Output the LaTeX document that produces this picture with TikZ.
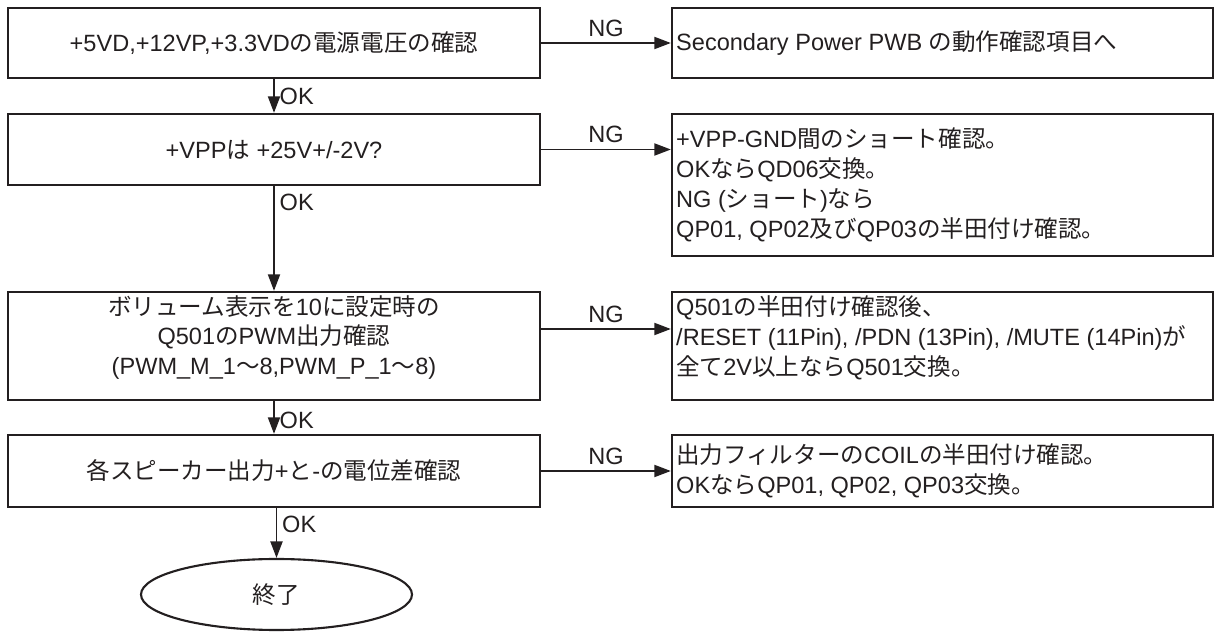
\documentclass[tikz,border=0pt]{standalone}
\usepackage{fontspec}
\setmainfont{Liberation Sans}
\newfontfamily\jpfont{Noto Sans CJK JP}
\newcommand{\jp}[1]{{\jpfont #1}}
\usetikzlibrary{arrows.meta, positioning, shapes.geometric}
\definecolor{inkblack}{HTML}{231F20}

\begin{document}
\begin{tikzpicture}[
    chkbox/.style={rectangle, draw=inkblack, line width=1.3pt, minimum width=10.64cm, align=center, inner sep=0pt},
    ngbox/.style={rectangle, draw=inkblack, line width=1.3pt, minimum width=10.82cm, inner sep=0pt},
    ngtext/.style={anchor=west, align=left, inner xsep=0.1cm, inner ysep=0pt},
    endnode/.style={ellipse, draw=inkblack, line width=1.2pt, minimum width=5.42cm, minimum height=1.42cm, inner sep=0pt},
    flow/.style={-{Triangle[length=3.3mm, width=2.4mm]}, draw=inkblack, line width=1.1pt},
    oklabel/.style={anchor=west, inner sep=1pt, xshift=0.06cm},
    nglabel/.style={above, inner sep=2pt, yshift=0.04cm},
    font=\fontsize{13.4}{17}\selectfont, text=inkblack
]
\useasboundingbox (0,0) rectangle (24.32,12.64);

% left column: checks
\node[chkbox, minimum height=1.4cm] (supply) at (5.48, 11.78) {+5VD,+12VP,+3.3VD\jp{の電源電圧の確認}};
\node[chkbox, minimum height=1.42cm] (vpp) at (5.48, 9.65) {+VPP\jp{は} +25V+/-2V?};
\node[chkbox, minimum height=2.16cm] (pwm) at (5.48, 5.72) {};
\node[align=center, inner sep=0pt] (pwmtxt) at ([yshift=0.17cm]pwm.center) {\jp{ボリューム表示を}10\jp{に設定時の}\\Q501\jp{の}PWM\jp{出力確認}\\(PWM\_M\_1\jp{〜}8,PWM\_P\_1\jp{〜}8)};
\node[chkbox, minimum height=1.44cm] (spk) at (5.48, 3.22) {\jp{各スピーカー出力}+\jp{と}-\jp{の電位差確認}};
\node[endnode] (done) at (5.53, 0.75) {\jp{終了}};

% right column: NG actions
\node[ngbox, minimum height=1.4cm] (supplyng) at (18.85, 11.78) {};
\node[ngtext] (supplytxt) at (supplyng.west) {Secondary Power PWB \jp{の動作確認項目へ}};
\node[ngbox, minimum height=2.84cm] (vppng) at (18.85, 8.94) {};
\node[ngtext] (vpptxt) at (vppng.west) {+VPP-GND\jp{間のショート確認。}\\OK\jp{なら}QD06\jp{交換。}\\NG (\jp{ショート})\jp{なら}\\QP01, QP02\jp{及び}QP03\jp{の半田付け確認。}};
\node[ngbox, minimum height=2.16cm] (pwmng) at (18.85, 5.72) {};
\node[ngtext] (pwmtxt) at ([yshift=0.17cm]pwmng.west) {Q501\jp{の半田付け確認後、}\\/RESET (11Pin), /PDN (13Pin), /MUTE (14Pin)\jp{が}\\\jp{全て}2V\jp{以上なら}Q501\jp{交換。}};
\node[ngbox, minimum height=1.44cm] (spkng) at (18.85, 3.22) {};
\node[ngtext] (spktxt) at (spkng.west) {\jp{出力フィルターの}COIL\jp{の半田付け確認。}\\OK\jp{なら}QP01, QP02, QP03\jp{交換。}};

% OK path
\draw[flow] (supply) -- node[oklabel, pos=0.5] (ok1) {OK} (vpp);
\draw[flow] (vpp) -- node[oklabel, pos=0.16] (ok2) {OK} (pwm);
\draw[flow] (pwm) -- node[oklabel, pos=0.6] (ok3) {OK} (spk);
\draw[flow] (spk.south -| done.north) -- node[oklabel, pos=0.33] (ok4) {OK} (done.north);

% NG branches
\draw[flow] (supply) -- node[nglabel] (ng1) {NG} (supplyng);
\draw[flow] (vpp.east) -- node[nglabel] (ng2) {NG} (vpp.east -| vppng.west);
\draw[flow] ([yshift=0.34cm]pwm.east) -- node[nglabel] (ng3) {NG} ([yshift=0.34cm]pwmng.west);
\draw[flow] (spk) -- node[nglabel] (ng4) {NG} (spkng);
\end{tikzpicture}
\end{document}
